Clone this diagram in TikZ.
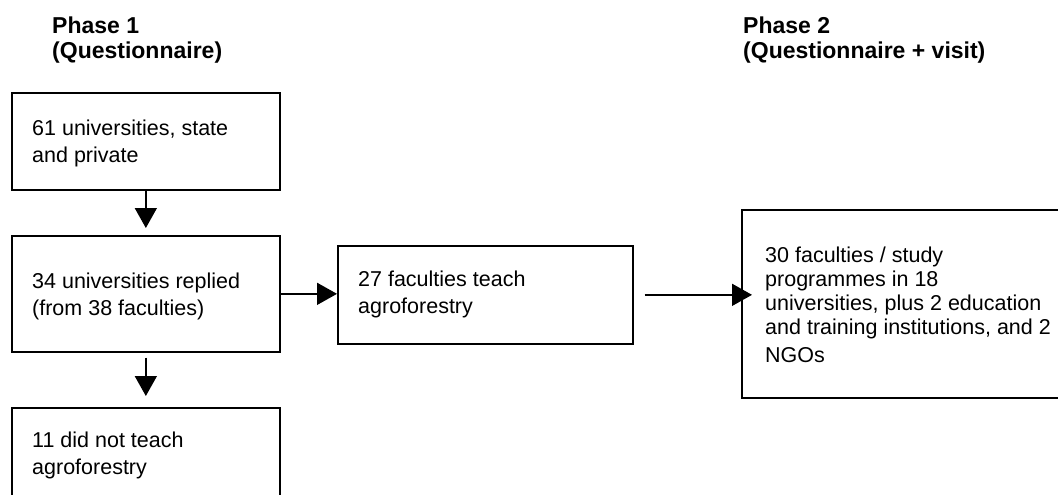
\documentclass[tikz,border=0pt]{standalone}
\usepackage{fontspec}
\setmainfont{Liberation Sans}
\usetikzlibrary{arrows.meta}
% fixed-height strut so the first baseline of each text block sits at a known depth
\newcommand\firststrut{\rule{0pt}{16pt}}
\newcommand\headstrut{\rule{0pt}{18pt}}
\begin{document}
\begin{tikzpicture}[x=1pt,y=-1pt,
  box/.style={draw, line width=1.7pt, rectangle, inner sep=0pt, anchor=north west},
  boxtext/.style={anchor=north west, inner sep=0pt, align=left,
    font=\fontsize{21.5}{27}\selectfont},
  widetext/.style={boxtext, font=\fontsize{21.5}{24}\selectfont},
  heading/.style={anchor=north west, inner sep=0pt, align=left,
    font=\fontsize{23}{25.5}\selectfont\bfseries},
  arr/.style={line width=1.6pt, -{Triangle[length=20pt,width=22pt]}}
]
\clip (0,0) rectangle (1058,495);
\fill[white] (0,0) rectangle (1058,495);

% headings
\node[heading] (h1) at (52,15) {\headstrut Phase 1\\(Questionnaire)};
\node[heading] (h2) at (743,15) {\headstrut Phase 2\\(Questionnaire + visit)};

% boxes
\node[box, minimum width=268pt, minimum height=97pt]  (b1) at (11,92)  {};
\node[box, minimum width=268pt, minimum height=116pt] (b2) at (11,235) {};
\node[box, minimum width=295pt, minimum height=98pt]  (b3) at (337,245) {};
\node[box, minimum width=330pt, minimum height=188pt] (b4) at (741,209) {};
\node[box, minimum width=268pt, minimum height=110pt] (b5) at (11,407) {};

% box texts
\node[boxtext] (t1) at (32,119) {\firststrut 61 universities, state\\and private};
\node[boxtext] (t2) at (32,272) {\firststrut 34 universities replied\\(from 38 faculties)};
\node[boxtext] (t3) at (358,270) {\firststrut 27 faculties teach\\agroforestry};
\node[widetext] (t4) at (765,246) {\firststrut 30 faculties / study\\programmes in 18\\universities, plus 2 education\\and training institutions, and 2\\[4pt]NGOs};
\node[boxtext] (t5) at (32,431) {\firststrut 11 did not teach\\agroforestry};

% connectors
\draw[arr] (b1.south) -- ([yshift=7pt]b2.north);
\draw[arr] (b2.east) -- (b2.east -| b3.west);
\draw[arr] ([xshift=11pt]b3.east) -- ([xshift=11pt]b3.east -| b4.west);
\draw[arr] ([yshift=-5pt]b2.south) -- ([yshift=11pt]b5.north);
\end{tikzpicture}
\end{document}
